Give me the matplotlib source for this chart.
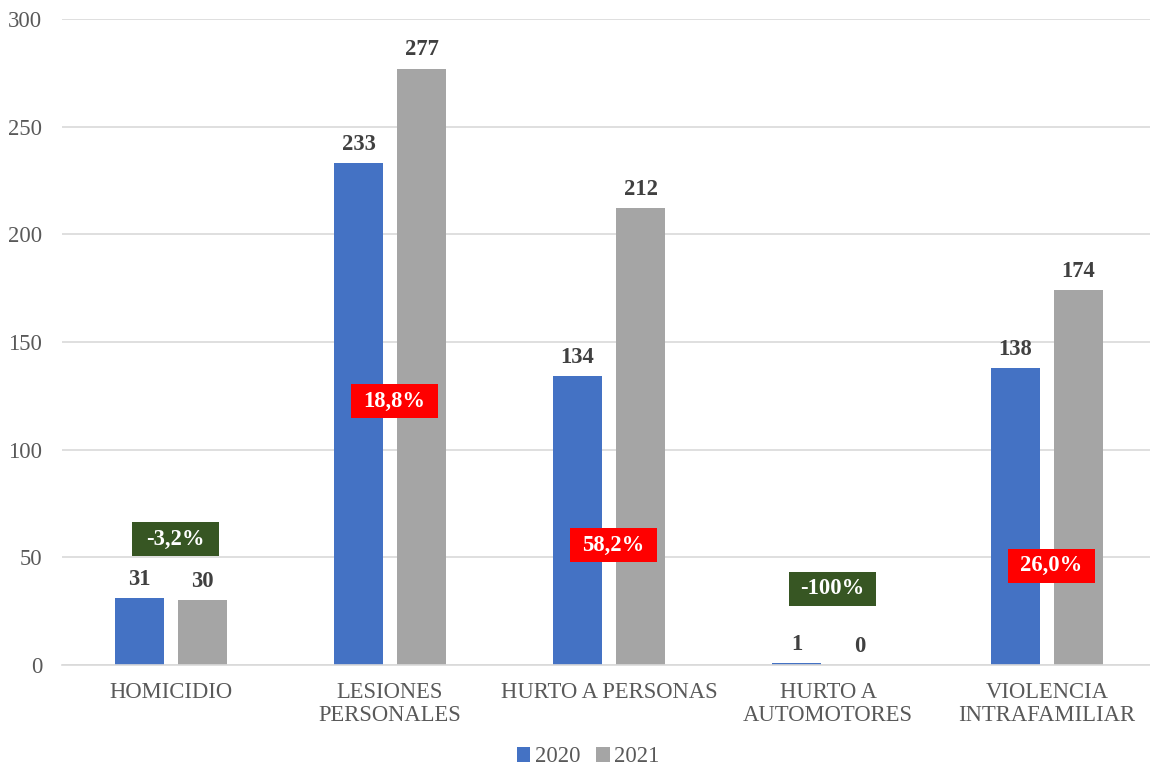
import matplotlib
matplotlib.use("Agg")
import matplotlib.pyplot as plt
from matplotlib.patches import Rectangle
import numpy as np

categories = ["HOMICIDIO", "LESIONES\nPERSONALES", "HURTO A PERSONAS", "HURTO A\nAUTOMOTORES", "VIOLENCIA\nINTRAFAMILIAR"]
values_2020 = [31, 233, 134, 1, 138]
values_2021 = [30, 277, 212, 0, 174]
change_labels = ["-3,2%", "18,8%", "58,2%", "-100%", "26,0%"]
change_y = [58.5, 122.6, 55.7, 35.3, 46.0]
change_colors = ["#375623", "#FF0000", "#FF0000", "#375623", "#FF0000"]
yticks = [0, 50, 100, 150, 200, 250, 300]

plt.rcParams['font.family'] = ['Liberation Serif', 'DejaVu Serif']
FS = 16.3

fig = plt.figure(figsize=(11.5, 7.66), dpi=100)
ax_left, ax_right = 61.5, 1156.5
ax = fig.add_axes([ax_left/1150, (766-665)/766, (ax_right-ax_left)/1150, (665-19)/766])
ax.patch.set_visible(False)

x = np.arange(len(categories))
w = 0.221
off = 0.144
b1 = ax.bar(x - off, values_2020, w, color="#4472C4", label="2020", zorder=2)
b2 = ax.bar(x + off, values_2021, w, color="#A5A5A5", label="2021", zorder=2)

for bars, vals in ((b1, values_2020), (b2, values_2021)):
    for r, v in zip(bars, vals):
        ax.annotate(str(v), (r.get_x() + r.get_width()/2, v), xytext=(0, 6),
                    textcoords="offset points", ha="center", va="bottom",
                    fontsize=FS, fontweight="bold", color="#404040", zorder=4)

px_per_cat = (ax_right - ax_left) / 5
bw = 87/px_per_cat
bh = 34/2.153
for i, (lab, yc, col) in enumerate(zip(change_labels, change_y, change_colors)):
    xc = i + 0.02
    ax.add_patch(Rectangle((xc - bw/2, yc - bh/2), bw, bh, facecolor=col, edgecolor="none", zorder=3))
    ax.text(xc, yc, lab, ha="center", va="center", color="white", fontsize=FS,
            fontweight="bold", zorder=4)

ax.set_xlim(-0.5, 4.5)
ax.set_ylim(0, 300)
ax.set_yticks(yticks)
ax.set_xticks(x)
ax.set_xticklabels(categories, fontsize=FS, color="#595959", linespacing=1.15)
ax.tick_params(axis="y", labelsize=FS, labelcolor="#595959", length=0, pad=14)
ax.tick_params(axis="x", length=0, pad=12)
ax.grid(axis="y", color="#D9D9D9", linewidth=1.2, zorder=0)
ax.set_axisbelow(True)
for s in ["top", "right", "left"]:
    ax.spines[s].set_visible(False)
ax.spines["bottom"].set_color("#D9D9D9")
ax.spines["bottom"].set_linewidth(1.2)

leg = fig.legend(handles=[b1, b2], labels=["2020", "2021"], loc="center",
                 bbox_to_anchor=(588/1150, 1 - 757/766), ncol=2, frameon=False,
                 fontsize=FS, handlelength=0.6, handleheight=0.6, handletextpad=0.2,
                 columnspacing=0.7)
for t in leg.get_texts():
    t.set_color("#595959")

fig.savefig("out.png", dpi=100)
